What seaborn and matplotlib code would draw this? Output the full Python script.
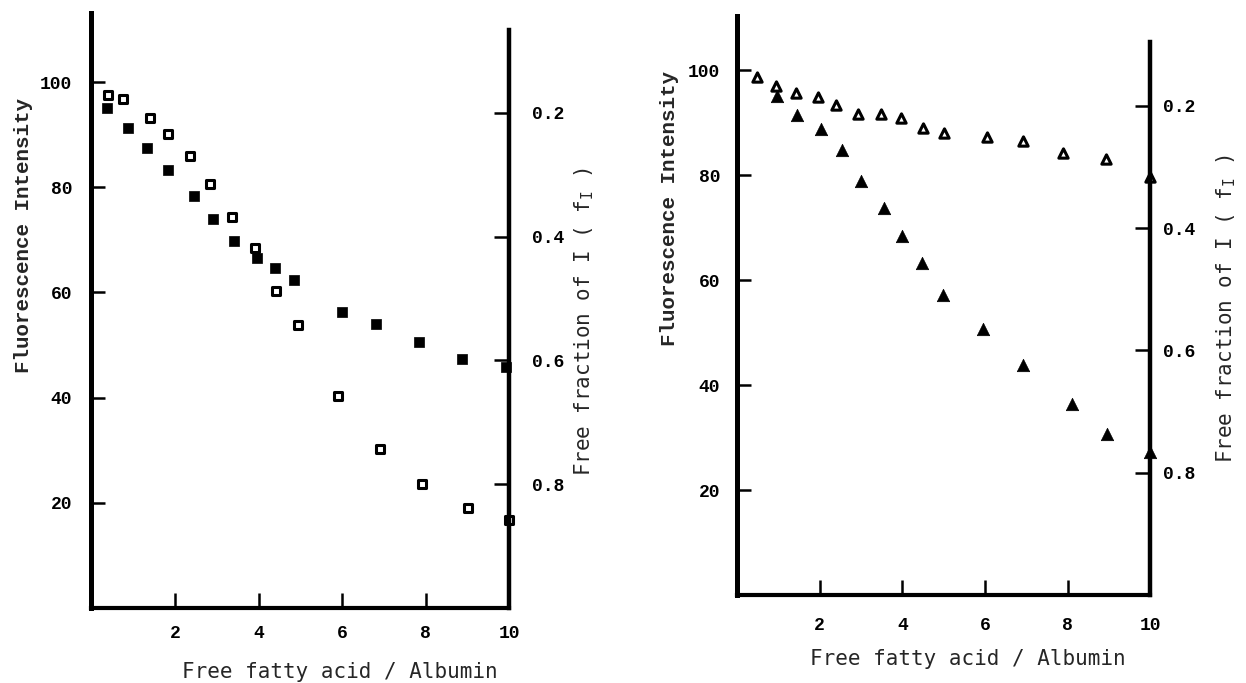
import matplotlib
matplotlib.use("Agg")
import matplotlib.pyplot as plt
import seaborn as sns
import pandas as pd

# valeurs
left_x_open = [0.40, 0.76, 1.39, 1.82, 2.36, 2.84, 3.36, 3.91, 4.41, 4.95, 5.90, 6.91, 7.91, 9.01, 10.0]
left_y_open = [97.6, 96.7, 93.1, 90.2, 86.0, 80.6, 74.4, 68.5, 60.3, 53.8, 40.3, 30.2, 23.5, 19.1, 16.7]
left_x_filled = [0.38, 0.87, 1.32, 1.83, 2.46, 2.92, 3.41, 3.96, 4.40, 4.84, 5.99, 6.82, 7.84, 8.86, 9.92]
left_y_filled = [95.1, 91.3, 87.5, 83.2, 78.3, 74.0, 69.8, 66.6, 64.6, 62.3, 56.3, 53.9, 50.6, 47.4, 45.9]

right_x_open = [0.49, 0.94, 1.43, 1.96, 2.40, 2.93, 3.48, 3.98, 4.49, 5.01, 6.04, 6.93, 7.89, 8.93, 10.0]
right_y_open = [98.6, 97.0, 95.6, 94.9, 93.3, 91.6, 91.6, 90.9, 89.0, 88.1, 87.3, 86.5, 84.2, 83.1, 79.7]
right_x_filled = [0.96, 1.45, 2.03, 2.54, 3.01, 3.56, 3.99, 4.47, 4.99, 5.96, 6.93, 8.11, 8.94, 10.0]
right_y_filled = [95.1, 91.4, 88.7, 84.8, 78.9, 73.8, 68.3, 63.3, 57.2, 50.6, 43.8, 36.4, 30.7, 27.3]

x_ticks = [2, 4, 6, 8, 10]
y_ticks = [20, 40, 60, 80, 100]
f_ticks = [0.2, 0.4, 0.6, 0.8]

sns.set_style("ticks")
tick_font = {"family": "Liberation Mono", "weight": "bold", "size": 13}

fig = plt.figure(figsize=(12.46, 6.83), dpi=100)

panels = [
    dict(rect=[0.0734, 0.1098, 0.3354, 0.871], ylim=(0, 113.1), flim=(1.0, 0.039), ftop=0.067,
         ylab=(-0.162, 0.627), flab=(1.179, 0.481), xlab=(0.595, -0.108), marker="s",
         xo=left_x_open, yo=left_y_open, xf=left_x_filled, yf=left_y_filled,
         xpad=12, ypad=14, fpad=16, so=38, sf=52),
    dict(rect=[0.5914, 0.1288, 0.3319, 0.8478], ylim=(0, 110.3), flim=(1.0, 0.053), ftop=0.095,
         ylab=(-0.162, 0.668), flab=(1.183, 0.494), xlab=(0.559, -0.111), marker="^",
         xo=right_x_open, yo=right_y_open, xf=right_x_filled, yf=right_y_filled,
         xpad=16, ypad=12, fpad=9, so=45, sf=80),
]

for p in panels:
    ax = fig.add_axes(p["rect"])
    df_o = pd.DataFrame({"x": p["xo"], "y": p["yo"]})
    df_f = pd.DataFrame({"x": p["xf"], "y": p["yf"]})
    sns.scatterplot(data=df_f, x="x", y="y", marker=p["marker"], s=p["sf"], color="black",
                    edgecolor="black", linewidth=0.5, clip_on=False, ax=ax)
    sns.scatterplot(data=df_o, x="x", y="y", marker=p["marker"], s=p["so"], facecolor="white",
                    edgecolor="black", linewidth=2.2, clip_on=False, ax=ax)

    ax.set_xlim(0, 10)
    ax.set_ylim(*p["ylim"])
    ax.set_xticks(x_ticks)
    ax.set_yticks(y_ticks)
    for lab in ax.get_xticklabels() + ax.get_yticklabels():
        lab.set_fontproperties(matplotlib.font_manager.FontProperties(**tick_font))
    ax.tick_params(axis="x", direction="in", length=11, width=1.8, pad=p["xpad"], colors="black")
    ax.tick_params(axis="y", direction="in", length=10, width=1.8, pad=p["ypad"], colors="black")
    ax.spines["top"].set_visible(False)
    ax.spines["right"].set_visible(False)
    ax.spines["left"].set_linewidth(3.6)
    ax.spines["bottom"].set_linewidth(3.0)
    for s in ("left", "bottom"):
        ax.spines[s].set_color("black")

    ax.set_xlabel("Free fatty acid / Albumin", family="DejaVu Sans Mono", fontsize=15, va="center")
    ax.xaxis.set_label_coords(*p["xlab"])
    ax.set_ylabel("Fluorescence Intensity", family="Liberation Mono", weight="bold",
                  fontsize=15, va="center")
    ax.yaxis.set_label_coords(*p["ylab"])

    # axe de droite : fraction libre, inversée
    ax2 = ax.twinx()
    ax2.set_ylim(*p["flim"])
    ax2.set_yticks(f_ticks)
    ax2.set_yticklabels([f"{v:.1f}" for v in f_ticks])
    for lab in ax2.get_yticklabels():
        lab.set_fontproperties(matplotlib.font_manager.FontProperties(**tick_font))
    ax2.tick_params(axis="y", direction="in", length=11, width=1.8, pad=p["fpad"], colors="black")
    for s in ("top", "left", "bottom"):
        ax2.spines[s].set_visible(False)
    ax2.spines["right"].set_linewidth(3.2)
    ax2.spines["right"].set_color("black")
    ax2.spines["right"].set_bounds(1.0, p["ftop"])
    ax2.set_ylabel(r"Free fraction of I ( f$_\mathregular{I}$ )", family="DejaVu Sans Mono",
                   fontsize=15, rotation=90, va="center")
    ax2.yaxis.set_label_coords(*p["flab"])
    ax2.grid(False)

fig.savefig("out.png", dpi=100, facecolor="white")
